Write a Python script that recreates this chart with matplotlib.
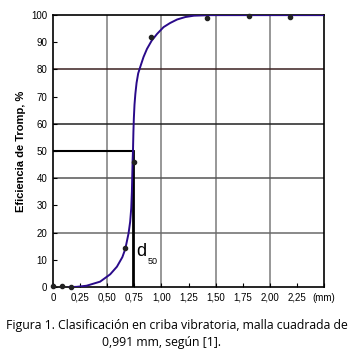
import matplotlib
matplotlib.use('Agg')
from matplotlib import pyplot as plt

# datos experimentales
x_pts = [0.0, 0.086, 0.167, 0.664, 0.747, 0.907, 1.417, 1.81, 2.19]
y_pts = [0.4, 0.4, 0.0, 14.2, 45.8, 91.7, 98.8, 99.5, 99.3]

# curva de Tromp
x_curva = [0.15, 0.22, 0.31, 0.435, 0.528, 0.59, 0.64, 0.667, 0.697, 0.712, 0.722,
           0.728, 0.732, 0.735, 0.738, 0.742, 0.746, 0.752, 0.76, 0.771, 0.786,
           0.806, 0.835, 0.867, 0.91, 0.96, 1.02, 1.08, 1.145, 1.22, 1.30, 1.45, 2.5]
y_curva = [0.0, 0.1, 0.5, 2.0, 4.7, 7.5, 11.0, 14.0, 19.7, 24.0, 29.0,
           35.0, 42.0, 47.0, 50.0, 57.0, 62.0, 67.0, 71.0, 75.0, 78.5,
           81.0, 84.5, 87.5, 90.5, 93.0, 95.5, 97.0, 98.3, 99.2, 99.7, 99.9, 99.9]

d50 = 0.734

x_ticks = [0, 0.25, 0.5, 0.75, 1.0, 1.25, 1.5, 1.75, 2.0, 2.25, 2.5]
x_labels = ['0', '0,25', '0,50', '0,75', '1,00', '1,25', '1,50', '1,75', '2,00', '2,25', '(mm)']
y_ticks = list(range(0, 101, 10))

plt.rcParams['font.family'] = ['Liberation Sans', 'DejaVu Sans']

fig = plt.figure(figsize=(3.53, 3.54), dpi=100)
ax = fig.add_axes([0.150, 0.189, 0.768, 0.769])

# rejilla
for gx in [0.5, 1.0, 1.5, 2.0]:
    ax.axvline(gx, color='#7a7a7a', lw=1.1, zorder=1)
for gy, c in [(20, '#6a6a6a'), (40, '#555555'), (60, '#222222'), (80, '#3a2020')]:
    ax.axhline(gy, color=c, lw=1.1, zorder=1)

# d50
ax.plot([0, d50], [50, 50], color='black', lw=1.5, zorder=2)
ax.plot([d50, d50], [0, 50], color='black', lw=2.0, zorder=2)
ax.text(0.765, 11.5, 'd', fontsize=13, va='baseline', zorder=5)
ax.text(0.872, 8.5, '50', fontsize=6.5, va='baseline', zorder=5)

ax.plot(x_curva, y_curva, color='#2a0a8a', lw=1.4, zorder=3)
ax.scatter(x_pts, y_pts, s=9, color='#222222', zorder=4, clip_on=False)

ax.set_xlim(0, 2.5)
ax.set_ylim(0, 100)
ax.set_xticks(x_ticks)
ax.set_xticklabels(x_labels, fontsize=7)
ax.set_yticks(y_ticks)
ax.set_yticklabels([str(v) for v in y_ticks], fontsize=7)
ax.tick_params(axis='both', direction='in', length=3, width=0.8, pad=4)
for s in ax.spines.values():
    s.set_linewidth(1.2)

ax.set_ylabel('Eficiencia de Tromp, %', fontsize=8, fontweight='bold', labelpad=4)

fig.text(0.502, 0.072, 'Figura 1. Clasificación en criba vibratoria, malla cuadrada de',
         ha='center', fontsize=8.8, family=['Open Sans', 'DejaVu Sans'])
fig.text(0.289, 0.022, '0,991 mm, según [1].', ha='left', fontsize=8.8,
         family=['Open Sans', 'DejaVu Sans'])

fig.savefig('out.png', dpi=100)
